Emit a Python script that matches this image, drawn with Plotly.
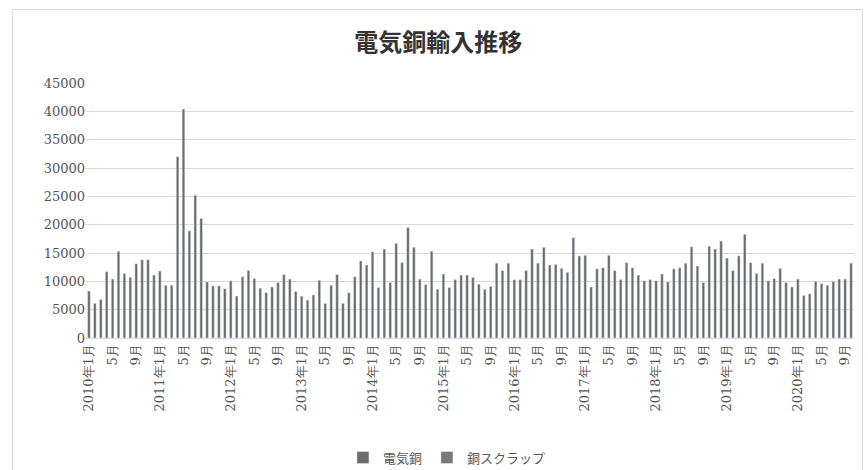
import plotly.graph_objects as go

# Months 2010年1月 .. 2020年10月
years = list(range(2010, 2021))
months = []
for y in years:
    for m in range(1, 13):
        if y == 2020 and m > 10:
            break
        months.append(f"{y}年{m}月")

denki_dou = [
    8300, 6100, 6800, 11700, 10400, 15300, 11400, 10700, 13100, 13800, 13800, 11100,
    11800, 9300, 9300, 32000, 40400, 18900, 25200, 21100, 9900, 9200, 9200, 8700,
    10100, 7400, 10800, 11900, 10500, 8800, 8000, 9000, 9800, 11200, 10400, 8200,
    7400, 6700, 7600, 10200, 6100, 9300, 11200, 6100, 8000, 10800, 13600, 12900,
    15200, 8900, 15700, 9800, 16700, 13300, 19500, 16000, 10400, 9400, 15300, 8600,
    11300, 8900, 10300, 11100, 11100, 10700, 9500, 8600, 9100, 13200, 11900, 13200,
    10300, 10300, 11900, 15700, 13200, 16000, 12900, 13000, 12300, 11600, 17700, 14500,
    14600, 9000, 12200, 12400, 14600, 11900, 10300, 13300, 12400, 11100, 10100, 10300,
    10100, 11300, 9900, 12200, 12400, 13200, 16100, 12700, 9800, 16200, 15700, 17100,
    14100, 11900, 14500, 18300, 13300, 11400, 13200, 10100, 10500, 12300, 9800, 9000,
    10400, 7500, 7800, 10000, 9600, 9300, 10000, 10400, 10400, 13200,
]
# 銅スクラップ: no visible bars in the reference
dou_scrap = [None] * len(months)

tick_vals = [m for i, m in enumerate(months) if i % 4 == 0]
tick_text = [m if m.endswith("年1月") else m.split("年")[1] for m in tick_vals]
y_ticks = list(range(0, 45001, 5000))

fig = go.Figure()
fig.add_trace(go.Bar(x=months, y=denki_dou, name="電気銅", marker_color="#6b6b6b"))
fig.add_trace(go.Bar(x=months, y=dou_scrap, name="銅スクラップ", marker_color="#7a7a7a"))

fig.update_layout(
    width=868, height=470,
    margin=dict(l=86, r=14, t=83, b=132, autoexpand=False),
    paper_bgcolor="white", plot_bgcolor="white",
    barmode="overlay", bargap=0.55,
    title=dict(text="<b>電気銅輸入推移</b>", x=0.505, xanchor="center", y=0.91, yanchor="middle",
               font=dict(family="Noto Sans CJK JP", size=24, color="#333333")),
    font=dict(family="Noto Sans CJK JP", color="#555555"),
    legend=dict(orientation="h", x=0.47, xanchor="center", y=-0.41, yanchor="top",
                font=dict(family="Noto Sans CJK JP", size=13, color="#555555"),
                itemwidth=30, traceorder="normal"),
    showlegend=True,
)
fig.update_xaxes(type="category", tickmode="array", tickvals=tick_vals, ticktext=tick_text,
                 tickangle=-90, showgrid=False, showline=True, linecolor="#d9d9d9",
                 automargin=False,
                 tickfont=dict(family="DejaVu Serif", size=13, color="#555555"), ticks="")
fig.update_yaxes(range=[0, 45000], tickvals=y_ticks, tickformat="d", showgrid=True,
                 gridcolor="#d9d9d9", gridwidth=1, zeroline=False, showline=False,
                 automargin=False,
                 tickfont=dict(family="DejaVu Serif", size=13, color="#555555"))
fig.add_shape(type="rect", xref="paper", yref="paper", x0=-0.096, x1=1.011, y0=-0.8, y1=1.288,
              line=dict(color="#d9d9d9", width=1), fillcolor="rgba(0,0,0,0)", layer="below")
fig.write_html("out.html")
